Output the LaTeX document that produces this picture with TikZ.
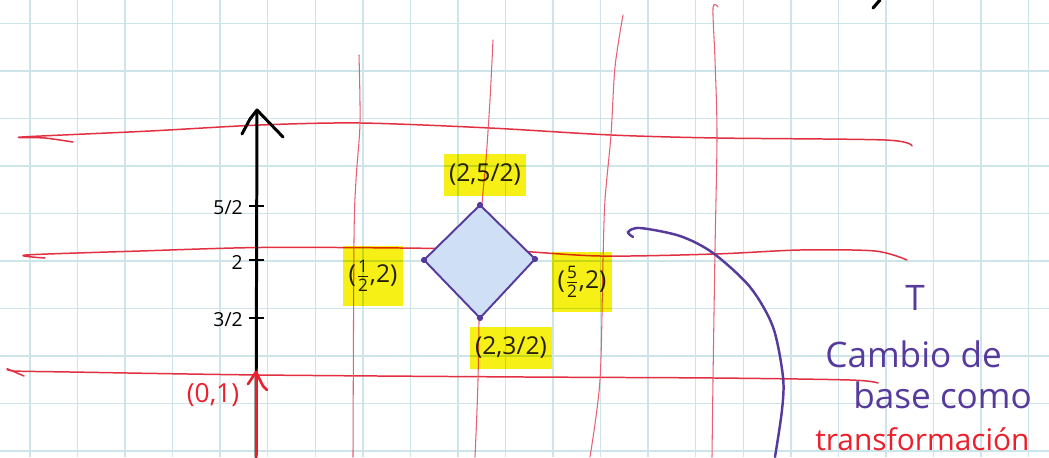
\documentclass[tikz,border=0pt]{standalone}
\usepackage{amsmath}
\usepackage{fontspec}
\setmainfont{Open Sans}
\usetikzlibrary{arrows.meta,positioning}

\definecolor{gridblue}{RGB}{205,228,233}
\definecolor{redrule}{RGB}{226,48,66}
\definecolor{pinkrule}{RGB}{232,96,118}
\definecolor{penviolet}{RGB}{86,58,156}
\definecolor{quadfill}{RGB}{206,223,246}
\definecolor{hlyellow}{RGB}{246,240,22}
\definecolor{ink}{RGB}{38,34,30}
\definecolor{penred}{RGB}{236,32,44}

\newcommand{\hfr}[2]{\ensuremath{\frac{\text{#1}}{\text{#2}}}}

\begin{document}
\begin{tikzpicture}[
    x=0.02cm, y=-0.02cm,
    gridline/.style={draw=gridblue,line width=0.8pt},
    hline/.style={draw=redrule,line width=0.85pt,line cap=round,line join=round},
    vline/.style={draw=pinkrule,line width=0.6pt,line cap=round,line join=round},
    axisline/.style={draw=black,line width=1.7pt,line cap=round,line join=round},
    axistick/.style={draw=black,line width=1.4pt},
    axlbl/.style={font=\fontsize{11}{13}\selectfont,text=black,inner sep=0pt},
    hl/.style={fill=hlyellow,blend mode=multiply,inner xsep=3pt,inner ysep=6pt,
      text=ink,font=\fontsize{14}{16}\selectfont},
    vtx/.style={circle,fill=penviolet,inner sep=0pt,minimum size=3.5pt},
    purtext/.style={text=penviolet,font=\fontsize{20}{24}\selectfont,inner sep=0pt},
    redtext/.style={text=penred,font=\fontsize{17}{20}\selectfont,inner sep=0pt}
  ]
  \useasboundingbox (0,0) rectangle (1049,457);
  \clip (0,0) rectangle (1049,457);
  \fill[white] (0,0) rectangle (1049,457);

  % squared paper
  \foreach \i in {0,...,21}
    \draw[gridline] ({30+47.55*\i},0) -- ({30+47.55*\i},457);
  \foreach \j in {0,...,9}
    \draw[gridline] (0,{23.3+47.5*\j}) -- (1049,{23.3+47.5*\j});

  % red rules of the new base
  \draw[hline] plot[smooth] coordinates {(73,142) (45,138) (22,137) (150,131)
    (260,125) (360,123) (490,128) (611,135) (717,138) (885,140) (912,146)};
  \draw[hline] plot[smooth] coordinates {(45,258) (26,255) (140,251) (260,247.5)
    (400,248) (500,250) (600,256) (715,254) (800,250) (875,251) (907,260)};
  \draw[hline] plot[smooth] coordinates {(24,376) (8,369) (14,371) (70,372)
    (260,375) (525,377) (715,378) (850,380) (878,383)};
  \draw[vline] plot[smooth] coordinates {(359,55) (360,123) (356,180) (354,240) (353,457)};
  \draw[vline] plot[smooth] coordinates {(493,40) (490,100) (486,160) (482,205)
    (480,260) (478,380) (475,457)};
  \draw[vline] plot[smooth] coordinates {(623,15) (615,67) (611,135) (605,200)
    (603,260) (600,380) (590,457)};
  \draw[vline] plot[smooth] coordinates {(718,7) (713,8) (715,60) (717,135)
    (715,250) (713,380) (712,457)};

  % y axis
  \coordinate (ybot) at (256,457);
  \coordinate (ytop) at (257,110);
  \draw[axisline] (ybot) -- (ytop);
  \draw[axisline] (242,134) -- (250,119) -- (ytop) -- (283,137);
  \foreach \yy/\lab/\nm in {206/{5/2}/t52, 260/2/t2, 318/{3/2}/t32} {
    \draw[axistick] (249,\yy) -- (264,\yy);
    \node[axlbl,anchor=east] (\nm) at (243,{\yy+2}) {\lab};
  }

  % red vector (0,1)
  \coordinate (etip) at (256,372);
  \draw[draw=penred,line width=1.6pt,line cap=round,line join=round] (ybot) -- (etip);
  \draw[draw=penred,line width=1.5pt,line cap=round,line join=round]
    (248,384) -- (etip) -- (263,386) -- (267,390);
  \node[text=penred,font=\fontsize{15}{17}\selectfont,inner sep=0pt] (e2lbl)
    at (213,395) {(0,1)};

  % square region
  \coordinate (dtop) at (480,205);
  \coordinate (dleft) at (424,260);
  \coordinate (dright) at (535,259);
  \coordinate (dbot) at (480,318);
  \filldraw[fill=quadfill,draw=penviolet,line width=1.1pt,line join=round]
    (dtop) -- (dright) -- (dbot) -- (dleft) -- cycle;
  \foreach \v in {dtop,dleft,dright,dbot}
    \node[vtx] at (\v) {};

  \node[hl] (lbltop) at (485,175) {(2,5/2)};
  \node[hl,inner ysep=8pt] (lblleft) at (373,276) {(\hfr{1}{2},2)};
  \node[hl,inner ysep=8pt] (lblright) at (582,282) {(\hfr{5}{2},2)};
  \node[hl] (lblbot) at (511,348) {(2,3/2)};

  % change of base arrow
  \draw[draw=penviolet,line width=1.4pt,line cap=round] plot[smooth] coordinates
    {(633,237) (628,232) (640,228) (680,236) (713,253) (750,287) (773,327)
     (783,377) (782,410) (775,457)};

  % notes on the right
  \node[purtext,anchor=base] (tname) at (915,310) {T};
  \node[purtext,anchor=base west] (cambio) at (825,367) {Cambio de};
  \node[purtext,anchor=base west] (basec) at (853,408) {base como};
  \node[redtext,anchor=base west] (transf) at (815,450) {transformación};

  % stroke of text above the page
  \draw[line width=1.8pt,line cap=round] (873,8) -- (880,0);
\end{tikzpicture}
\end{document}
